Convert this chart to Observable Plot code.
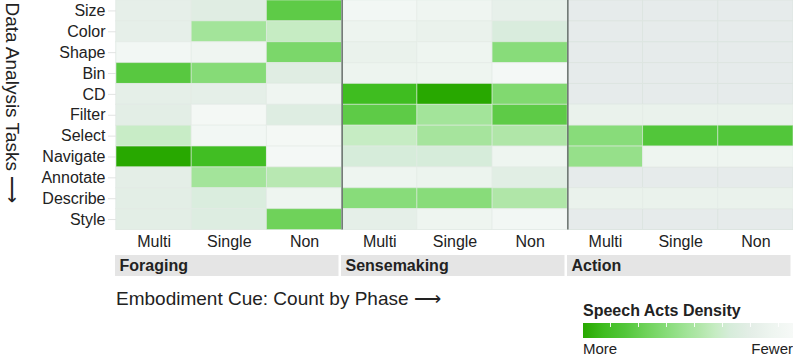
<!DOCTYPE html>
<html><head><meta charset="utf-8">
<script src="https://cdn.jsdelivr.net/npm/d3@7"></script>
<script src="https://cdn.jsdelivr.net/npm/@observablehq/plot@0.6"></script>
<style>
body{margin:0;background:#fff;font-family:"Liberation Sans",Arial,sans-serif;color:#222}
#wrap{position:relative;width:793px;height:356px;overflow:hidden;background:#fff}
.abs{position:absolute;white-space:nowrap}
</style></head><body><div id="wrap"></div>
<script>
// ---- data ----
const tasks = ["Size","Color","Shape","Bin","CD","Filter","Select","Navigate","Annotate","Describe","Style"];
const cues = ["Multi","Single","Non"];
const phases = ["Foraging","Sensemaking","Action"];
// density (1 = more speech acts, 0 = fewer); null = no data
const foragingMulti    = [0.18,0.18,0.05,0.78,0.19,0.21,0.36,1.00,0.20,0.21,0.21];
const foragingSingle   = [0.23,0.50,0.09,0.61,0.19,0.03,0.05,0.89,0.50,0.27,0.25];
const foragingNon      = [0.76,0.37,0.65,0.23,0.09,0.24,0.03,0.02,0.42,0.10,0.70];
const sensemakingMulti = [0.05,0.11,0.14,0.11,0.90,0.76,0.37,0.30,0.10,0.60,0.19];
const sensemakingSingle= [0.09,0.14,0.10,0.10,1.00,0.50,0.49,0.30,0.12,0.60,0.10];
const sensemakingNon   = [0.17,0.28,0.60,0.02,0.63,0.76,0.45,0.10,0.22,0.45,0.05];
const actionMulti      = [null,null,null,null,null,0.14,0.60,0.55,null,0.14,null];
const actionSingle     = [null,null,null,null,null,0.14,0.80,0.10,null,0.14,null];
const actionNon        = [null,null,null,null,null,0.14,0.80,0.10,null,0.14,null];
const legendTitle = "Speech Acts Density";
const legendLabels = ["More","Fewer"];
const xTitle = "Embodiment Cue: Count by Phase \u27F6";
const yTitle = "Data Analysis Tasks \u27F6";

const colorDomain = [0,0.1,0.2,0.3,0.37,0.45,0.5,0.6,0.7,0.8,0.9,1];
const colorRange = ["#f6f9f7","#eef5f0","#e4eee7","#d6ecda","#c6ecc3","#b0e6a8","#a3e49a","#88dc7a","#6fd25a","#52c63a","#3fbd20","#28a800"];

const columns = [
  [foragingMulti, foragingSingle, foragingNon],
  [sensemakingMulti, sensemakingSingle, sensemakingNon],
  [actionMulti, actionSingle, actionNon]
];
const data = [];
columns.forEach((cols, pi) => cols.forEach((vals, ci) => vals.forEach((v, ti) => {
  data.push({task: tasks[ti], phase: phases[pi], cue: cues[ci], col: pi * cues.length + ci, value: v});
})));
const nCols = phases.length * cues.length;
const colCenters = d3.range(nCols).map(i => i + 0.5);
const separators = d3.range(1, phases.length).map(i => i * cues.length);

const font = "Liberation Sans, Arial, sans-serif";
const wrap = document.getElementById("wrap");

// ---- main heatmap ----
const main = Plot.plot({
  width: 793, height: 250, marginLeft: 116, marginRight: 0, marginTop: 0, marginBottom: 20.5,
  style: {fontFamily: font, fontSize: "16px", color: "#222", background: "transparent", overflow: "visible"},
  x: {domain: [0, nCols], axis: null},
  y: {domain: tasks, type: "band", padding: 0, round: false, axis: null},
  color: {type: "linear", domain: colorDomain, range: colorRange, unknown: "#e6ebeb"},
  marks: [
    Plot.barX(data, {x1: "col", x2: d => d.col + 1, y: "task", fill: "#e6ebeb", stroke: "#dde5e1", strokeWidth: 1}),
    Plot.barX(data.filter(d => d.value != null), {x1: "col", x2: d => d.col + 1, y: "task", fill: "value", stroke: "#e3ebe6", strokeOpacity: 0.55, strokeWidth: 1}),
    Plot.ruleX(separators, {stroke: "#6f7773", strokeWidth: 1.6}),
    Plot.axisX({ticks: colCenters, tickFormat: v => cues[Math.floor(v) % cues.length], tickSize: 0, tickPadding: 6, fontSize: 16, label: null}),
    Plot.axisY({tickSize: 8, tickPadding: 3, stroke: "#e2e4e3", fontSize: 16, label: null}),
    Plot.text([yTitle], {frameAnchor: "top-left", rotate: 90, textAnchor: "start", lineAnchor: "middle", dx: -104, dy: 2, fontSize: 19, fill: "#222"})
  ]
});
main.classList.add("abs");
main.style.left = "0px"; main.style.top = "0px";
wrap.appendChild(main);

// ---- phase strips ----
const strips = Plot.plot({
  width: 793, height: 21, marginLeft: 115, marginRight: 0, marginTop: 0, marginBottom: 0,
  style: {fontFamily: font, fontSize: "16px", color: "#222", background: "transparent", overflow: "visible"},
  x: {domain: [0, nCols], axis: null},
  marks: [
    Plot.barX(phases, {x1: (d, i) => i * cues.length, x2: (d, i) => (i + 1) * cues.length, fill: "#e5e5e5", insetRight: 2.5}),
    Plot.text(phases, {x: (d, i) => i * cues.length, text: d => d, dx: 4, textAnchor: "start", fontWeight: "bold", fontSize: 16, fill: "#222"})
  ]
});
strips.classList.add("abs");
strips.style.left = "0px"; strips.style.top = "255px";
wrap.appendChild(strips);

// ---- x title ----
const xt = document.createElement("div");
xt.className = "abs";
xt.textContent = xTitle;
Object.assign(xt.style, {left: "116px", top: "289px", fontSize: "19px", lineHeight: "19px", color: "#222"});
wrap.appendChild(xt);

// ---- legend ----
const lt = document.createElement("div");
lt.className = "abs";
lt.textContent = legendTitle;
Object.assign(lt.style, {left: "583px", top: "302.5px", fontSize: "16px", lineHeight: "16px", fontWeight: "bold", color: "#222"});
wrap.appendChild(lt);

const stops = colorDomain.map((d, i) => `${colorRange[i]} ${((1 - d) * 100).toFixed(2)}%`).reverse();
const ramp = document.createElement("div");
ramp.className = "abs";
Object.assign(ramp.style, {left: "583px", top: "322.5px", width: "210px", height: "15px", background: `linear-gradient(to right, ${stops.join(",")})`});
wrap.appendChild(ramp);
const ticks = document.createElement("div");
ticks.className = "abs";
Object.assign(ticks.style, {left: "583px", top: "322.5px", width: "210px", height: "4px", background: "repeating-linear-gradient(to right, transparent 0 27px, rgba(255,255,255,0.9) 27px 28px)"});
wrap.appendChild(ticks);

legendLabels.forEach((t, i) => {
  const el = document.createElement("div");
  el.className = "abs";
  el.textContent = t;
  Object.assign(el.style, {top: "341px", fontSize: "15px", lineHeight: "15px", color: "#222"});
  if (i === 0) el.style.left = "583px"; else el.style.right = "0px";
  wrap.appendChild(el);
});
</script></body></html>
